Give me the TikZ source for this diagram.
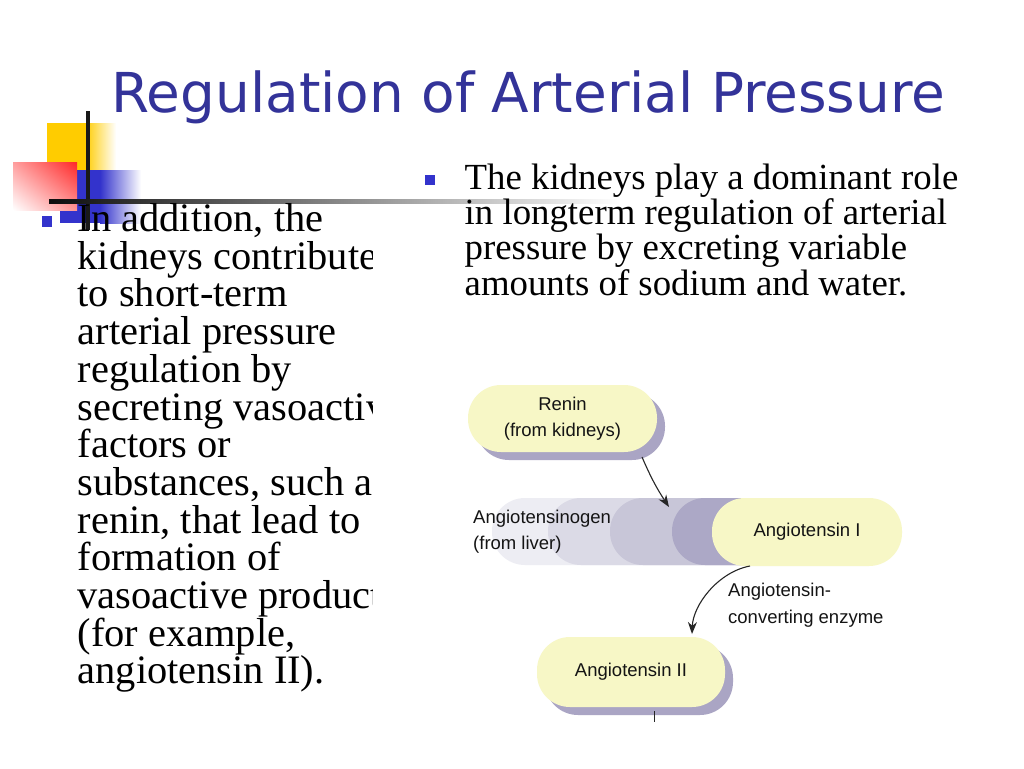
\documentclass[tikz,border=0pt]{standalone}
\usepackage{fontspec}
\usepackage{graphicx}
\setmainfont{Liberation Serif}
\newfontfamily\titlefont{DejaVu Sans}
\newfontfamily\diafont{Liberation Sans}
\usetikzlibrary{arrows.meta,shadows,shadings}
\definecolor{titleblue}{RGB}{51,51,153}
\definecolor{bulletblue}{RGB}{51,51,204}
\definecolor{decY}{RGB}{255,204,0}
\definecolor{decR}{RGB}{255,40,40}
\definecolor{decB}{RGB}{51,51,204}
\definecolor{pilly}{RGB}{247,247,198}
\definecolor{shadowc}{RGB}{170,165,196}
\definecolor{bandA}{RGB}{237,237,243}
\definecolor{bandB}{RGB}{219,218,230}
\definecolor{bandC}{RGB}{200,198,216}
\definecolor{bandD}{RGB}{172,168,198}
\definecolor{dtext}{RGB}{20,20,20}
\begin{document}
\begin{tikzpicture}[x=1pt,y=-1pt,
  pill/.style={rounded corners=33pt, minimum height=67pt, inner sep=0pt,
    font=\diafont\fontsize{18.5}{26}\selectfont, text=dtext, align=center},
  yellowpill/.style={pill, fill=pilly,
    drop shadow={shadow xshift=8pt, shadow yshift=-8pt, fill=shadowc, opacity=1}},
  bandpill/.style={pill},
  arr/.style={draw=black!85, line width=1.1pt, -{Stealth[length=12pt,width=9pt]}},
  bulletsq/.style={fill=bulletblue, minimum size=10.5pt, inner sep=0pt},
  dlabel/.style={anchor=base west, inner sep=0pt, text=dtext,
    font=\diafont\fontsize{18.5}{26.5}\selectfont}
]
\useasboundingbox (0,0) rectangle (1024,768);
\fill[white] (0,0) rectangle (1024,768);

% ---- decoration top-left ----
\fill[decY] (47,123) rectangle (85,172);
\shade[left color=decY, right color=white] (85,123) rectangle (116,172);
\fill[decB] (60,170) rectangle (100,223);
\shade[left color=decB, right color=white] (100,170) rectangle (141,223);
\shade[upper right=decR, upper left=decR!45!white, lower right=decR!50!white, lower left=white]
  (13,162) rectangle (77,210);
\fill[black!90] (85.5,111) rectangle (89.5,230);
\shade[left color=black!95, right color=white] (49,199) rectangle (620,203.3);

% ---- title ----
\node[anchor=base west, inner sep=0pt, text=titleblue] (title) at (111,112)
  {\resizebox{834pt}{\height}{\titlefont\fontsize{55}{60}\selectfont Regulation of Arterial Pressure}};

% ---- left bullet text ----
\node[bulletsq] (bl) at (47,221.5) {};
\begin{scope}
\clip (60,150) rectangle (372,720);
\node[anchor=base west, inner sep=0pt, font=\fontsize{40.4}{37.7}\selectfont] (lefttext) at (77.5,231.5)
  {\vtop{\hbox{In addition, the}\hbox{kidneys contribute}\hbox{to short-term}\hbox{arterial pressure}%
   \hbox{regulation by}\hbox{secreting vasoactive}\hbox{factors or}\hbox{substances, such as}%
   \hbox{renin, that lead to}\hbox{formation of}\hbox{vasoactive products}\hbox{(for example,}%
   \hbox{angiotensin II).}}};
\end{scope}

% ---- right bullet text ----
\node[bulletsq] (br) at (430,180) {};
\node[anchor=base west, inner sep=0pt, font=\fontsize{36.8}{35.2}\selectfont] (righttext) at (464.5,189.5)
  {\vtop{\hbox{The kidneys play a dominant role}\hbox{in longterm regulation of arterial}%
   \hbox{pressure by excreting variable}\hbox{amounts of sodium and water.}}};

% ---- diagram ----
\node[yellowpill, minimum width=189pt] (renin) at (562.5,418.5) {Renin\\(from kidneys)};

\node[bandpill, fill=bandA, minimum width=368pt] (band1) at (676,531.5) {};
\node[bandpill, fill=bandB, minimum width=312pt] (band2) at (704,531.5) {};
\node[bandpill, fill=bandC, minimum width=250pt] (band3) at (735,531.5) {};
\node[bandpill, fill=bandD, minimum width=188pt] (band4) at (766,531.5) {};
\node[pill, fill=pilly, minimum width=190pt, minimum height=68pt] (ang1) at (807,532) {Angiotensin I};
\node[dlabel] (angtxt) at (473,523) {\vtop{\hbox{Angiotensinogen}\hbox{(from liver)}}};

\node[yellowpill, minimum width=188pt, minimum height=70pt] (ang2) at (631,672) {Angiotensin II};
\node[dlabel] (acetxt) at (728,596.7) {\vtop{\hbox{Angiotensin-}\hbox{converting enzyme}}};

\coordinate (r1) at (642,457);
\coordinate (r2) at (669,507);
\draw[arr] (r1) to[bend right=5] (r2);

\coordinate (e1) at (750,566);
\coordinate (e2) at (692,634);
\draw[arr] (e1) .. controls (718,572) and (693,605) .. (e2);

\coordinate (t1) at (654,711);
\coordinate (t2) at (654,722);
\draw[black!85, line width=1pt] (t1) -- (t2);
\end{tikzpicture}
\end{document}
